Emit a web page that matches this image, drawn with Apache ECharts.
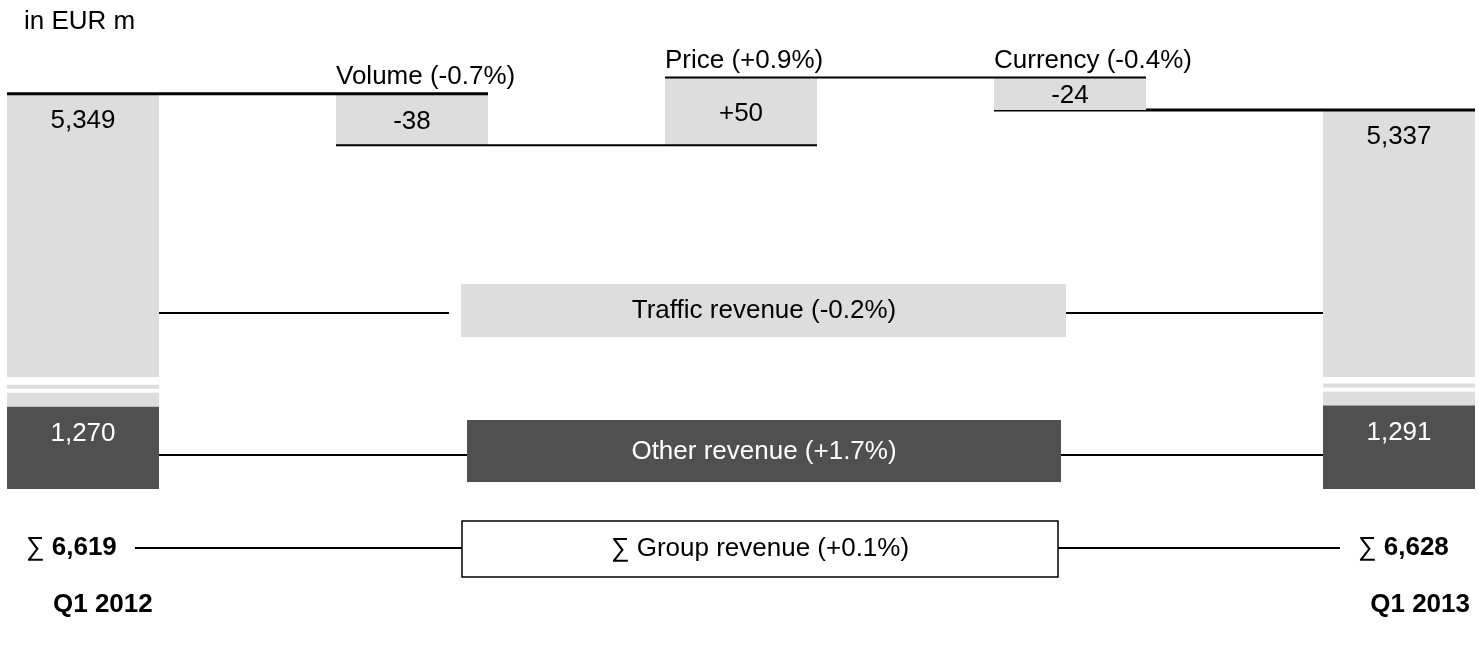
<!DOCTYPE html>
<html lang="en">
<head>
    <meta charset="UTF-8">
    <title>Revenue bridge Q1 2012 - Q1 2013</title>
    <script src="https://cdn.jsdelivr.net/npm/echarts@6/dist/echarts.min.js"></script>
    <style>
        html, body { margin: 0; padding: 0; background: #fff; }
        #main { width: 1478px; height: 646px; }
    </style>
</head>
<body>
<div id="main"></div>
<script>
    // data (EUR m)
    var steps = ['Q1 2012', 'Volume', 'Price', 'Currency', 'Q1 2013'];
    var stepNames = ['Volume (-0.7%)', 'Price (+0.9%)', 'Currency (-0.4%)'];
    var trafficStart = 5349;
    var trafficDeltas = [-38, 50, -24];
    var trafficEnd = 5337;
    var otherRevenue = [1270, 1291];
    var groupRevenue = [6619, 6628];
    var rowNames = ['Traffic revenue (-0.2%)', 'Other revenue (+1.7%)', '\u2211 Group revenue (+0.1%)'];

    var LIGHT = '#dddddd';
    var DARK = '#505050';
    var FONT = "26px 'Liberation Sans', Arial, sans-serif";
    var BOLD = "bold 26px 'Liberation Sans', Arial, sans-serif";
    var HALF = 0.231;      // half bar width in x units
    var BREAK_Y = 377;     // where the tall traffic bars are cut

    function fmt(v) { return v.toLocaleString('en-US'); }
    function fmtDelta(v) { return (v > 0 ? '+' : '') + v; }
    function txt(s, x, y, font, color, align) {
        return {
            type: 'text', x: x, y: y,
            style: { text: s, font: font, fill: color || '#000',
                align: align || 'center', verticalAlign: 'middle',
                textAlign: align || 'center', textVerticalAlign: 'middle' }
        };
    }

    // build waterfall pieces
    var totalData = [[0, trafficStart], [steps.length - 1, trafficEnd]];
    var deltaData = [];
    var cum = trafficStart;
    trafficDeltas.forEach(function (d, k) {
        deltaData.push([k + 1, cum, cum + d, d]);
        cum += d;
    });
    var otherData = [[0, otherRevenue[0]], [steps.length - 1, otherRevenue[1]]];

    var myChart = echarts.init(document.getElementById('main'));

    var xAxisBase = { type: 'value', min: -HALF, max: steps.length - 1 + HALF, show: false };

    var option = {
        animation: false,
        grid: [
            { left: 7, right: 3, top: 60, height: 100 },
            { left: 7, right: 3, top: 392, height: 97 }
        ],
        xAxis: [
            Object.assign({ gridIndex: 0 }, xAxisBase),
            Object.assign({ gridIndex: 1 }, xAxisBase)
        ],
        yAxis: [
            { type: 'value', gridIndex: 0, min: 5300, max: 5374, show: false },
            { type: 'value', gridIndex: 1, min: 0, max: 1500, show: false }
        ],
        series: [
            {
                // tall (cut) traffic revenue bars for both quarters
                type: 'custom', xAxisIndex: 0, yAxisIndex: 0,
                data: totalData,
                renderItem: function (params, api) {
                    var i = api.value(0), v = api.value(1);
                    var l = api.coord([i - HALF, v]), r = api.coord([i + HALF, v]);
                    var ch = [
                        { type: 'rect', shape: { x: l[0], y: l[1], width: r[0] - l[0], height: BREAK_Y - l[1] }, style: { fill: LIGHT } },
                        txt(fmt(v), (l[0] + r[0]) / 2, l[1] + 27, FONT)
                    ];
                    if (i === steps.length - 1) {
                        var p = api.coord([i - 1 - HALF, v]);
                        ch.push({ type: 'line', shape: { x1: p[0], y1: l[1], x2: r[0], y2: l[1] }, style: { stroke: '#000', lineWidth: 3 } });
                    }
                    return { type: 'group', children: ch };
                }
            },
            {
                // volume / price / currency steps
                type: 'custom', xAxisIndex: 0, yAxisIndex: 0,
                data: deltaData,
                renderItem: function (params, api) {
                    var i = api.value(0), s = api.value(1), e = api.value(2), d = api.value(3);
                    var a = api.coord([i - HALF, s]), b = api.coord([i + HALF, e]);
                    var top = Math.min(a[1], b[1]), bot = Math.max(a[1], b[1]);
                    var prev = api.coord([i - 1 - HALF, s]);
                    return {
                        type: 'group',
                        children: [
                            { type: 'rect', shape: { x: a[0], y: top, width: b[0] - a[0], height: bot - top }, style: { fill: LIGHT } },
                            { type: 'line', shape: { x1: prev[0], y1: a[1], x2: b[0], y2: a[1] }, style: { stroke: '#000', lineWidth: i === 1 ? 3 : 2 } },
                            txt(fmtDelta(d), (a[0] + b[0]) / 2, (top + bot) / 2 + 2, FONT),
                            txt(stepNames[i - 1], a[0], top - 17, FONT, '#000', 'left')
                        ]
                    };
                }
            },
            {
                // other revenue bars
                type: 'custom', xAxisIndex: 1, yAxisIndex: 1,
                data: otherData,
                renderItem: function (params, api) {
                    var i = api.value(0), v = api.value(1);
                    var t = api.coord([i - HALF, v]), b = api.coord([i + HALF, 0]);
                    var w = b[0] - t[0];
                    return {
                        type: 'group',
                        children: [
                            { type: 'rect', shape: { x: t[0], y: t[1] - 22, width: w, height: 4 }, style: { fill: LIGHT } },
                            { type: 'rect', shape: { x: t[0], y: t[1] - 14, width: w, height: 14 }, style: { fill: LIGHT } },
                            { type: 'rect', shape: { x: t[0], y: t[1], width: w, height: b[1] - t[1] }, style: { fill: DARK } },
                            txt(fmt(v), t[0] + w / 2, t[1] + 27, FONT, '#fff')
                        ]
                    };
                }
            }
        ],
        graphic: [
            txt('in EUR m', 24, 22, FONT, '#000', 'left'),

            // traffic revenue row
            { type: 'line', shape: { x1: 159, y1: 313, x2: 449, y2: 313 }, style: { stroke: '#000', lineWidth: 2 } },
            { type: 'rect', shape: { x: 461, y: 284, width: 605, height: 53 }, style: { fill: LIGHT } },
            { type: 'line', shape: { x1: 1066, y1: 313, x2: 1323, y2: 313 }, style: { stroke: '#000', lineWidth: 2 } },
            txt(rowNames[0], 764, 311, FONT),

            // other revenue row
            { type: 'line', shape: { x1: 159, y1: 455, x2: 467, y2: 455 }, style: { stroke: '#000', lineWidth: 2 } },
            { type: 'rect', shape: { x: 467, y: 420, width: 594, height: 62 }, style: { fill: DARK } },
            { type: 'line', shape: { x1: 1061, y1: 455, x2: 1323, y2: 455 }, style: { stroke: '#000', lineWidth: 2 } },
            txt(rowNames[1], 764, 452, FONT, '#fff'),

            // group revenue row
            { type: 'line', shape: { x1: 135, y1: 548, x2: 462, y2: 548 }, style: { stroke: '#000', lineWidth: 2 } },
            { type: 'rect', shape: { x: 462, y: 521, width: 596, height: 56 }, style: { fill: '#fff', stroke: '#000', lineWidth: 1.5 } },
            { type: 'line', shape: { x1: 1058, y1: 548, x2: 1340, y2: 548 }, style: { stroke: '#000', lineWidth: 2 } },
            txt(rowNames[2], 760, 549, FONT),
            {
                type: 'text', x: 26, y: 548,
                style: {
                    text: '{s|\u2211 }{b|' + fmt(groupRevenue[0]) + '}',
                    align: 'left', verticalAlign: 'middle', textAlign: 'left', textVerticalAlign: 'middle',
                    rich: { s: { font: FONT, fill: '#000' }, b: { font: BOLD, fill: '#000' } }
                }
            },
            {
                type: 'text', x: 1358, y: 548,
                style: {
                    text: '{s|\u2211 }{b|' + fmt(groupRevenue[1]) + '}',
                    align: 'left', verticalAlign: 'middle', textAlign: 'left', textVerticalAlign: 'middle',
                    rich: { s: { font: FONT, fill: '#000' }, b: { font: BOLD, fill: '#000' } }
                }
            },

            // quarter labels
            txt(steps[0], 53, 605, BOLD, '#000', 'left'),
            txt(steps[steps.length - 1], 1470, 605, BOLD, '#000', 'right')
        ]
    };

    myChart.setOption(option);
</script>
</body>
</html>
